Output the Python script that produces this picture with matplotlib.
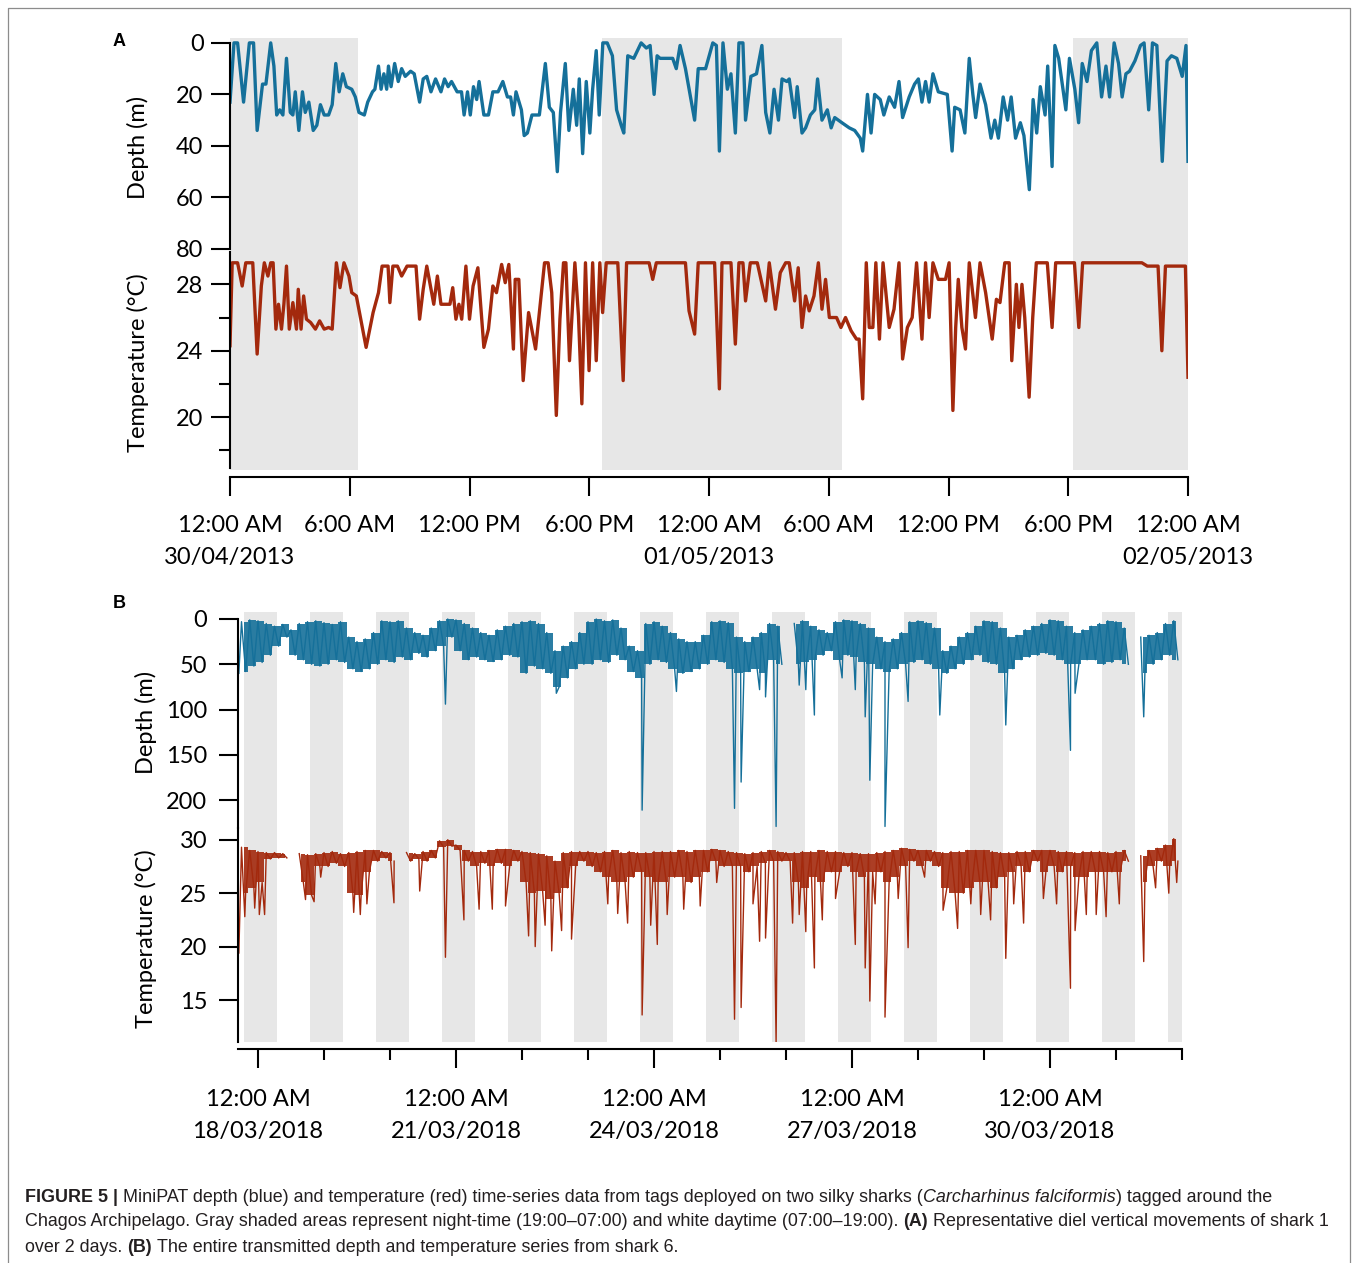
import numpy as np
import matplotlib
matplotlib.use("Agg")
import matplotlib.pyplot as plt
from matplotlib.lines import Line2D

# ---------------- data: panel A (hours from 30/04/2013 00:00) ----------------
a_depth_hours = [
    0.0, 0.2, 0.38, 0.68, 0.97, 1.18, 1.36, 1.63, 1.8, 2.04, 2.2, 2.34,
    2.49, 2.65, 2.83, 3.02, 3.15, 3.27, 3.45, 3.63, 3.77, 3.95, 4.17, 4.35,
    4.53, 4.72, 4.94, 5.12, 5.3, 5.47, 5.65, 5.83, 6.1, 6.28, 6.46, 6.73,
    6.9, 7.14, 7.26, 7.44, 7.57, 7.71, 7.85, 7.94, 8.07, 8.25, 8.43, 8.6,
    8.78, 9.05, 9.23, 9.5, 9.68, 9.86, 10.07, 10.3, 10.57, 10.75, 10.93, 11.1,
    11.38, 11.6, 11.73, 11.9, 12.04, 12.2, 12.36, 12.48, 12.72, 12.95, 13.17, 13.43,
    13.67, 13.9, 14.06, 14.2, 14.33, 14.6, 14.74, 14.9, 15.13, 15.5, 15.8, 16.0,
    16.2, 16.4, 16.56, 16.8, 16.98, 17.2, 17.37, 17.5, 17.67, 17.85, 18.03, 18.17,
    18.35, 18.5, 18.68, 18.9, 19.16, 19.37, 19.6, 19.73, 19.93, 20.23, 20.6, 20.86,
    21.05, 21.25, 21.4, 21.55, 21.82, 22.18, 22.36, 22.55, 22.82, 23.28, 23.46, 23.64,
    23.83, 24.19, 24.37, 24.52, 24.7, 24.92, 25.1, 25.32, 25.5, 25.7, 25.83, 26.1,
    26.38, 26.65, 26.84, 27.05, 27.26, 27.48, 27.66, 27.9, 28.02, 28.29, 28.42, 28.66,
    28.84, 29.08, 29.3, 29.44, 29.66, 29.93, 30.12, 30.3, 30.66, 31.03, 31.3, 31.58,
    31.7, 31.94, 32.12, 32.3, 32.58, 32.76, 33.03, 33.3, 33.52, 33.7, 34.03, 34.3,
    34.49, 34.67, 34.85, 35.03, 35.22, 35.49, 35.94, 36.18, 36.31, 36.58, 36.82, 37.04,
    37.22, 37.36, 37.58, 37.86, 38.13, 38.32, 38.5, 38.74, 38.96, 39.14, 39.36, 39.6,
    39.78, 40.05, 40.24, 40.42, 40.6, 40.84, 40.97, 41.19, 41.33, 41.52, 41.7, 41.88,
    42.06, 42.33, 42.52, 42.7, 42.94, 43.16, 43.43, 43.67, 43.89, 44.07, 44.3, 44.52,
    44.7, 44.89, 45.07, 45.34, 45.62, 45.8, 46.03, 46.22, 46.44, 46.71, 46.95, 47.17,
    47.44, 47.71, 47.9, 48.0,
]
a_depth = [
    23, 0, 0, 23, 0, 0, 34, 16, 16, 0, 9, 28,
    26, 28, 6, 27, 28, 19, 34, 19, 27, 23, 34, 32,
    24, 28, 28, 24, 8, 19, 12, 17, 18, 21, 27, 28,
    23, 19, 18, 9, 18, 12, 18, 9, 17, 8, 15, 10,
    13, 11, 12, 23, 14, 13, 19, 14, 19, 14, 17, 15,
    19, 19, 28, 19, 28, 17, 22, 15, 28, 28, 19, 19,
    15, 21, 21, 28, 19, 26, 36, 35, 28, 28, 8, 25,
    27, 50, 27, 8, 34, 18, 32, 14, 43, 15, 35, 18,
    3, 28, 0, 0, 5, 26, 32, 35, 5, 6, 0, 2,
    1, 20, 5, 6, 6, 6, 10, 1, 10, 30, 10, 10,
    10, 0, 1, 42, 0, 18, 12, 35, 0, 0, 30, 13,
    12, 1, 27, 35, 18, 30, 14, 15, 14, 29, 17, 35,
    33, 28, 26, 14, 30, 26, 33, 29, 31, 33, 34, 37,
    42, 20, 35, 20, 22, 28, 21, 25, 15, 29, 21, 16,
    14, 23, 15, 23, 12, 19, 20, 42, 25, 26, 35, 6,
    20, 29, 16, 24, 37, 30, 37, 21, 30, 21, 37, 31,
    36, 57, 22, 35, 17, 28, 9, 48, 1, 6, 16, 26,
    6, 18, 31, 8, 15, 3, 0, 21, 9, 21, 0, 8,
    21, 12, 11, 7, 1, 0, 26, 0, 1, 46, 7, 5,
    6, 13, 1, 46,
]

a_temp_hours = [
    0.0, 0.11, 0.38, 0.61, 0.79, 1.14, 1.36, 1.57, 1.72, 1.9, 2.04, 2.16,
    2.3, 2.43, 2.58, 2.7, 2.83, 2.97, 3.15, 3.33, 3.42, 3.56, 3.69, 3.83,
    4.04, 4.28, 4.49, 4.72, 4.94, 5.12, 5.33, 5.51, 5.71, 5.96, 6.1, 6.33,
    6.82, 7.17, 7.44, 7.62, 7.92, 8.01, 8.16, 8.39, 8.6, 8.87, 9.32, 9.5,
    9.68, 9.86, 10.04, 10.21, 10.39, 10.57, 10.8, 11.02, 11.16, 11.32, 11.47, 11.61,
    11.82, 12.0, 12.18, 12.42, 12.72, 12.95, 13.17, 13.35, 13.61, 13.79, 13.97, 14.2,
    14.29, 14.47, 14.69, 14.96, 15.31, 15.76, 15.94, 16.12, 16.35, 16.53, 16.71, 16.83,
    17.01, 17.28, 17.46, 17.63, 17.81, 17.99, 18.17, 18.35, 18.53, 18.67, 18.85, 19.43,
    19.7, 19.87, 21.0, 21.18, 21.36, 22.82, 23.0, 23.28, 23.46, 24.28, 24.52, 24.65,
    25.1, 25.32, 25.5, 25.7, 25.83, 26.07, 26.42, 26.84, 27.02, 27.33, 27.57, 27.84,
    28.02, 28.29, 28.47, 28.66, 28.84, 29.02, 29.26, 29.48, 29.66, 29.84, 30.03, 30.39,
    30.61, 30.84, 31.12, 31.39, 31.52, 31.7, 31.88, 32.03, 32.21, 32.36, 32.54, 32.72,
    33.03, 33.27, 33.52, 33.7, 33.94, 34.18, 34.4, 34.67, 34.85, 35.03, 35.22, 35.49,
    35.85, 36.03, 36.22, 36.36, 36.49, 36.67, 36.85, 37.04, 37.35, 37.58, 37.86, 38.19,
    38.4, 38.58, 38.82, 39.04, 39.17, 39.4, 39.53, 39.68, 39.82, 40.04, 40.22, 40.4,
    40.95, 41.19, 41.37, 42.31, 42.53, 42.72, 45.69, 45.96, 46.5, 46.69, 46.87, 47.87,
    48.0,
]
a_temp = [
    24.3, 29.3, 29.3, 27.9, 29.3, 29.3, 23.8, 27.9, 29.3, 28.5, 29.3, 29.3,
    25.3, 26.8, 25.3, 26.8, 29.1, 25.3, 26.9, 25.3, 27.7, 25.3, 27.3, 25.9,
    25.7, 25.3, 25.8, 25.3, 25.4, 25.3, 29.3, 27.8, 29.3, 28.5, 27.5, 27.3,
    24.2, 26.3, 27.5, 29.1, 29.1, 26.9, 29.1, 29.1, 28.5, 29.1, 29.1, 25.9,
    27.7, 29.1, 27.9, 26.8, 28.5, 26.8, 26.8, 26.8, 27.8, 25.9, 26.8, 25.9,
    29.1, 25.9, 27.9, 29.0, 24.2, 25.3, 27.9, 27.5, 29.2, 28.1, 29.2, 24.1,
    28.3, 28.3, 22.2, 26.3, 24.1, 29.3, 29.3, 27.5, 20.1, 25.9, 29.3, 29.3,
    23.4, 29.3, 26.1, 20.8, 29.3, 22.8, 29.3, 23.4, 29.3, 26.3, 29.3, 29.3,
    22.2, 29.3, 29.3, 28.3, 29.3, 29.3, 26.4, 25.0, 29.3, 29.3, 21.7, 29.3,
    29.3, 24.4, 29.3, 29.3, 27.0, 29.3, 29.3, 27.0, 29.3, 26.5, 28.7, 29.3,
    29.3, 27.0, 29.0, 25.4, 27.3, 26.4, 27.3, 29.3, 26.5, 28.3, 26.0, 26.0,
    25.4, 26.0, 25.2, 24.7, 24.7, 21.1, 29.3, 25.4, 25.4, 29.3, 24.7, 29.3,
    25.4, 26.5, 29.3, 23.5, 25.4, 26.0, 29.3, 24.7, 29.3, 26.0, 29.3, 28.3,
    28.3, 29.3, 20.4, 25.4, 28.3, 25.4, 24.1, 29.3, 26.0, 29.3, 27.5, 24.7,
    27.1, 26.9, 29.3, 29.3, 23.4, 28.0, 25.4, 28.0, 26.0, 21.2, 26.0, 29.3,
    29.3, 25.4, 29.3, 29.3, 25.4, 29.3, 29.3, 29.1, 29.1, 24.0, 29.1, 29.1,
    22.4,
]

a_night_start = [-6.0, 18.65, 42.25]
a_night_end = [6.4, 30.65, 54.65]

a_tick_labels = ["12:00 AM\n30/04/2013", "6:00 AM", "12:00 PM", "6:00 PM",
                 "12:00 AM\n01/05/2013", "6:00 AM", "12:00 PM", "6:00 PM",
                 "12:00 AM\n02/05/2013"]

# ---------------- data: panel B (days from 18/03/2018 00:00) ----------------
# 3-hour bins: shallow / deep edge of the dense trace, plus isolated excursions
b_bin_days = np.arange(-0.25, 13.9, 0.125)
nan = np.nan
b_depth_top = [
    3, 1, 2, 5, 8, 6, 12, 5, 3, 2,
    4, 6, 3, 20, 25, 22, 15, 2, 3, 2,
    10, 15, 18, 10, 2, 0, 1, 5, 10, 15,
    18, 12, 8, 5, 3, 2, 5, 15, 35, 30,
    25, 15, 3, 0, 2, 1, 10, 30, 35, 5,
    3, 8, 15, 22, 25, 25, 18, 3, 2, 4,
    20, 25, 20, 15, 5, 8, nan, 5, 2, 8,
    12, 15, 3, 1, 2, 5, 10, 20, 25, 22,
    15, 3, 2, 4, 10, 35, 30, 20, 15, 8,
    2, 3, 10, 20, 18, 12, 8, 5, 1, 2,
    8, 15, 12, 8, 5, 2, 3, 10, nan, 20,
    18, 15, 5, 2,
]
b_depth_low = [
    58, 52, 48, 40, 30, 20, 40, 45, 50, 52,
    50, 45, 48, 55, 58, 55, 50, 45, 48, 42,
    45, 38, 42, 35, 30, 20, 35, 45, 42, 45,
    47, 45, 40, 42, 60, 52, 55, 60, 75, 65,
    55, 50, 50, 45, 48, 40, 45, 58, 65, 50,
    45, 48, 55, 60, 58, 55, 50, 45, 48, 55,
    60, 58, 55, 60, 45, 50, nan, 50, 48, 45,
    40, 35, 45, 40, 42, 48, 50, 55, 58, 55,
    50, 48, 45, 50, 55, 60, 55, 50, 45, 40,
    48, 50, 60, 55, 45, 42, 40, 38, 40, 45,
    50, 50, 45, 45, 50, 48, 45, 50, nan, 60,
    50, 45, 40, 45,
]
b_depth_spike_days = [-0.29, 2.84, 4.52, 5.82, 6.34, 7.22, 7.32, 7.6, 7.69, 7.85,
                      8.2, 8.3, 8.43, 8.85, 9.05, 9.2, 9.27, 9.5, 9.85, 10.33,
                      11.33, 12.31, 12.38, 13.42]
b_depth_spikes = [60, 94, 82, 211, 80, 209, 180, 78, 86, 229,
                  73, 78, 106, 65, 78, 108, 178, 229, 91, 106,
                  117, 145, 82, 108]

b_temp_top = [
    29.3, 29.0, 28.9, 28.8, 28.8, 28.7, nan, 28.7, 28.6, 28.7,
    28.8, 28.9, 28.7, 28.8, 28.9, 29.0, 29.0, 28.9, 28.8, nan,
    28.8, 28.7, 28.9, 29.0, 29.9, 30.0, 29.5, 29.0, 28.9, 28.9,
    29.0, 29.1, 29.1, 29.0, 28.9, 28.8, 28.7, 28.5, 28.0, 28.8,
    28.9, 28.9, 28.9, 28.8, 28.9, 29.0, 28.8, 28.9, 28.8, 28.8,
    28.9, 28.9, 28.9, 29.0, 28.9, 29.0, 29.0, 29.1, 29.0, 28.9,
    28.8, 28.7, 28.8, 28.9, 29.0, 28.9, 28.8, 28.8, 28.9, 28.9,
    29.0, 28.9, 28.9, 28.8, 28.8, 28.7, 28.7, 28.8, 28.9, 29.0,
    29.2, 29.1, 29.0, 29.0, 28.9, 28.8, 28.9, 28.9, 29.0, 29.0,
    29.0, 28.9, 28.8, 28.8, 28.9, 28.9, 29.0, 29.0, 29.0, 28.9,
    28.9, 28.8, 28.9, 28.9, 28.9, 28.8, 28.9, 29.0, nan, 28.5,
    29.0, 29.2, 29.5, 30.1,
]
b_temp_low = [
    25.0, 25.5, 26.0, 28.2, 28.3, 28.3, nan, 26.0, 24.8, 27.5,
    27.5, 27.8, 27.5, 25.0, 24.8, 27.0, 28.0, 28.3, 28.0, nan,
    28.0, 28.2, 28.0, 28.3, 29.3, 29.4, 29.0, 28.0, 27.5, 27.8,
    27.5, 27.8, 27.5, 28.0, 26.0, 25.0, 25.2, 24.5, 25.0, 25.5,
    27.5, 28.0, 27.5, 27.0, 26.5, 26.0, 26.0, 26.5, 27.0, 26.5,
    26.0, 26.0, 26.5, 26.5, 26.0, 26.5, 27.0, 28.0, 27.5, 27.5,
    27.5, 27.0, 27.5, 27.8, 28.0, 28.0, 28.0, 26.0, 25.5, 26.5,
    26.0, 27.0, 27.0, 27.5, 27.0, 26.5, 27.0, 27.0, 26.0, 26.5,
    27.5, 28.0, 27.5, 28.0, 27.5, 25.5, 25.0, 25.0, 25.5, 26.0,
    26.0, 25.5, 26.5, 27.0, 27.5, 27.0, 28.0, 27.0, 27.5, 27.0,
    27.5, 26.5, 26.5, 27.0, 27.0, 27.0, 27.0, 28.0, nan, 26.0,
    27.5, 28.0, 27.5, 28.0,
]
b_temp_spike_days = [
    -0.29, -0.2, -0.05, 0.02, 0.1, 0.72, 0.85, 0.95, 1.45, 1.55,
    1.65, 2.06, 2.15, 2.45, 2.84, 3.12, 3.35, 3.55, 3.75, 4.1,
    4.2, 4.35, 4.45, 4.6, 4.75, 5.3, 5.45, 5.6, 5.82, 5.95,
    6.05, 6.2, 6.45, 6.7, 6.95, 7.22, 7.32, 7.5, 7.6, 7.69,
    7.85, 8.1, 8.2, 8.3, 8.43, 8.55, 8.75, 9.05, 9.2, 9.27,
    9.35, 9.5, 9.7, 9.85, 10.1, 10.38, 10.6, 10.8, 10.95, 11.1,
    11.33, 11.45, 11.6, 11.9, 12.1, 12.31, 12.38, 12.55, 12.7, 12.85,
    13.05, 13.42, 13.6, 13.8, 13.92,
]
b_temp_spikes = [
    19.4, 22.8, 23.6, 23.0, 23.0, 24.4, 24.2, 26.5, 23.2, 23.0,
    24.0, 24.1, 24.0, 25.2, 19.0, 22.5, 23.5, 23.5, 23.8, 21.0,
    20.0, 22.0, 19.6, 21.5, 20.7, 24.0, 23.1, 22.2, 13.6, 22.0,
    20.2, 23.0, 23.5, 23.8, 26.0, 13.2, 14.3, 24.0, 20.5, 20.8,
    11.0, 22.2, 23.0, 21.4, 18.0, 22.5, 24.5, 20.2, 18.0, 14.9,
    24.0, 13.4, 24.5, 19.9, 26.5, 23.4, 21.7, 24.0, 23.0, 22.5,
    18.9, 24.0, 22.2, 24.5, 24.0, 16.1, 21.5, 23.0, 23.0, 22.8,
    24.0, 18.6, 25.5, 25.0, 26.0,
]

b_night_centres = np.arange(0, 15)   # midnights 18/03 .. 01/04
b_tick_labels = ["12:00 AM\n18/03/2018", "12:00 AM\n21/03/2018", "12:00 AM\n24/03/2018",
                 "12:00 AM\n27/03/2018", "12:00 AM\n30/03/2018"]

# ---------------- style ----------------
BLUE = "#15709a"
RED = "#a3290d"
GRAY = "#e7e7e7"
FONT = "Lato"
W, H = 1358, 1263
STEP = 0.125

plt.rcParams["font.family"] = [FONT, "DejaVu Sans"]


def box(x0, y0, x1, y1):
    # pixel box (from top-left) -> figure fraction
    return [x0 / W, 1 - y1 / H, (x1 - x0) / W, (y1 - y0) / H]


def zigzag(days, top, low, spike_days, spikes, step):
    t, v = [], []
    for d, a, b in zip(days, top, low):
        t += [d, d + step / 2]
        v += [a, b]
    t = np.concatenate([t, spike_days])
    v = np.concatenate([v, spikes])
    order = np.argsort(t, kind="stable")
    return t[order], v[order]


def style_axis(ax, show_bottom=False):
    ax.set_facecolor("none")
    for side in ["top", "right"]:
        ax.spines[side].set_visible(False)
    ax.spines["bottom"].set_visible(show_bottom)
    ax.spines["left"].set_linewidth(1.5)
    ax.tick_params(axis="y", direction="out", length=14, width=1.5, labelsize=17, pad=5)
    if not show_bottom:
        ax.tick_params(axis="x", bottom=False, labelbottom=False)


fig = plt.figure(figsize=(W / 100, H / 100), dpi=100)

# ---------------- panel A ----------------
bg = fig.add_axes(box(230, 38, 1188, 470))
bg.set_xlim(0, 48)
bg.axis("off")
for s, e in zip(a_night_start, a_night_end):
    bg.axvspan(s, e, color=GRAY, lw=0)

axd = fig.add_axes(box(230, 38, 1188, 252))
axd.plot(a_depth_hours, a_depth, color=BLUE, lw=2.4)
axd.set_xlim(0, 48)
axd.set_ylim(81.2, -1.9)
axd.set_yticks([0, 20, 40, 60, 80])
style_axis(axd)
axd.spines["left"].set_bounds(0, 80)

axt = fig.add_axes(box(230, 252, 1188, 468))
axt.plot(a_temp_hours, a_temp, color=RED, lw=2.4)
axt.set_xlim(0, 48)
axt.set_ylim(16.93, 29.95)
style_axis(axt, show_bottom=True)
axt.set_yticks([20, 24, 28])
axt.set_yticks([18, 22, 26], minor=True)
axt.tick_params(axis="y", which="minor", length=8, width=1.5)
axt.spines["bottom"].set_position(("outward", 6.5))
axt.spines["bottom"].set_linewidth(1.5)
axt.set_xticks(np.arange(0, 49, 6))
axt.set_xticklabels(a_tick_labels)
axt.tick_params(axis="x", direction="out", length=14, width=1.5, labelsize=17, pad=13)
for lab in axt.get_xticklabels():
    lab.set_linespacing(1.7)

fig.text(138 / W, 1 - 147 / H, "Depth (m)", rotation=90, ha="center", va="center", fontsize=17)
fig.text(138 / W, 1 - 363 / H, "Temperature (°C)", rotation=90, ha="center", va="center", fontsize=17)
fig.text(119 / W, 1 - 42 / H, "A", ha="center", va="center", fontsize=13, fontweight="bold",
         family=["Liberation Sans", "DejaVu Sans"])

# ---------------- panel B ----------------
XB = (-0.303, 14.0)
bg = fig.add_axes(box(238, 612, 1182, 1042))
bg.set_xlim(*XB)
bg.axis("off")
for c in b_night_centres:
    bg.axvspan(c - 5 / 24, c + 7 / 24, color=GRAY, lw=0)

mid = b_bin_days + STEP / 4

td, vd = zigzag(b_bin_days, b_depth_top, b_depth_low, b_depth_spike_days, b_depth_spikes, STEP)
axd = fig.add_axes(box(238, 612, 1182, 828))
axd.fill_between(mid, b_depth_top, b_depth_low, step="mid", color=BLUE, lw=0, alpha=0.9)
axd.plot(td, vd, color=BLUE, lw=1.0)
axd.set_xlim(*XB)
axd.set_ylim(230.7, -7.7)
axd.set_yticks([0, 50, 100, 150, 200])
style_axis(axd)
axd.tick_params(axis="y", pad=8)
axd.spines["left"].set_bounds(0, 230.7)

tt, vt = zigzag(b_bin_days, b_temp_top, b_temp_low, b_temp_spike_days, b_temp_spikes, STEP)
axt = fig.add_axes(box(238, 828, 1182, 1042))
axt.fill_between(mid, b_temp_top, b_temp_low, step="mid", color=RED, lw=0, alpha=0.9)
axt.plot(tt, vt, color=RED, lw=1.0)
axt.set_xlim(*XB)
axt.set_ylim(11.07, 31.1)
style_axis(axt, show_bottom=True)
axt.tick_params(axis="y", pad=8)
axt.set_yticks([15, 20, 25, 30])
axt.spines["bottom"].set_position(("outward", 5))
axt.spines["bottom"].set_linewidth(1.5)
axt.set_xticks([0, 3, 6, 9, 12])
axt.set_xticks([1, 2, 4, 5, 7, 8, 10, 11, 13, 14], minor=True)
axt.set_xticklabels(b_tick_labels)
axt.tick_params(axis="x", which="major", direction="out", length=13.5, width=1.5, labelsize=17, pad=15)
axt.tick_params(axis="x", which="minor", direction="out", length=8, width=1.5)
for lab in axt.get_xticklabels():
    lab.set_linespacing(1.7)

fig.text(146 / W, 1 - 722 / H, "Depth (m)", rotation=90, ha="center", va="center", fontsize=17)
fig.text(146 / W, 1 - 939 / H, "Temperature (°C)", rotation=90, ha="center", va="center", fontsize=17)
fig.text(119 / W, 1 - 603 / H, "B", ha="center", va="center", fontsize=13, fontweight="bold",
         family=["Liberation Sans", "DejaVu Sans"])

# ---------------- frame and caption ----------------
fig.add_artist(Line2D([7.5 / W, 7.5 / W, 1350 / W, 1350 / W], [0, 1 - 8 / H, 1 - 8 / H, 0],
                      transform=fig.transFigure, color="#8c8c8c", lw=0.9))

cap_family = ["Liberation Sans Narrow", "Liberation Sans", "DejaVu Sans"]
caption = [
    (1197, [("FIGURE 5 |", "bold", "normal", False),
            ("MiniPAT depth (blue) and temperature (red) time-series data from tags deployed on two silky sharks (",
             "normal", "normal", True),
            ("Carcharhinus falciformis", "normal", "italic", False),
            (") tagged around the", "normal", "normal", False)]),
    (1222, [("Chagos Archipelago. Gray shaded areas represent night-time (19:00–07:00) and white daytime (07:00–19:00).",
             "normal", "normal", False),
            ("(A)", "bold", "normal", True),
            ("Representative diel vertical movements of shark 1", "normal", "normal", True)]),
    (1247, [("over 2 days.", "normal", "normal", False),
            ("(B)", "bold", "normal", True),
            ("The entire transmitted depth and temperature series from shark 6.", "normal", "normal", True)]),
]

renderer = fig.canvas.get_renderer()


def text_width(s, size, weight="normal", style="normal"):
    t = fig.text(0, 0, s, fontsize=size, fontweight=weight, fontstyle=style, family=cap_family)
    w = t.get_window_extent(renderer).width
    t.remove()
    return w


def line_width(runs, size):
    space = text_width("x x", size) - text_width("xx", size)
    total = 0
    for s, wt, st, gap in runs:
        total += (space if gap else 0) + text_width(s, size, wt, st)
    return total


cap_size = 10.0 * 1253 / line_width(caption[0][1], 10.0)
space = text_width("x x", cap_size) - text_width("xx", cap_size)
for y, runs in caption:
    x = 25.0
    for s, wt, st, gap in runs:
        if gap:
            x += space
        t = fig.text(x / W, 1 - y / H, s, fontsize=cap_size, fontweight=wt, fontstyle=st,
                     family=cap_family, va="center", color="#231f20")
        x += t.get_window_extent(renderer).width

fig.savefig("out.png", dpi=100)
